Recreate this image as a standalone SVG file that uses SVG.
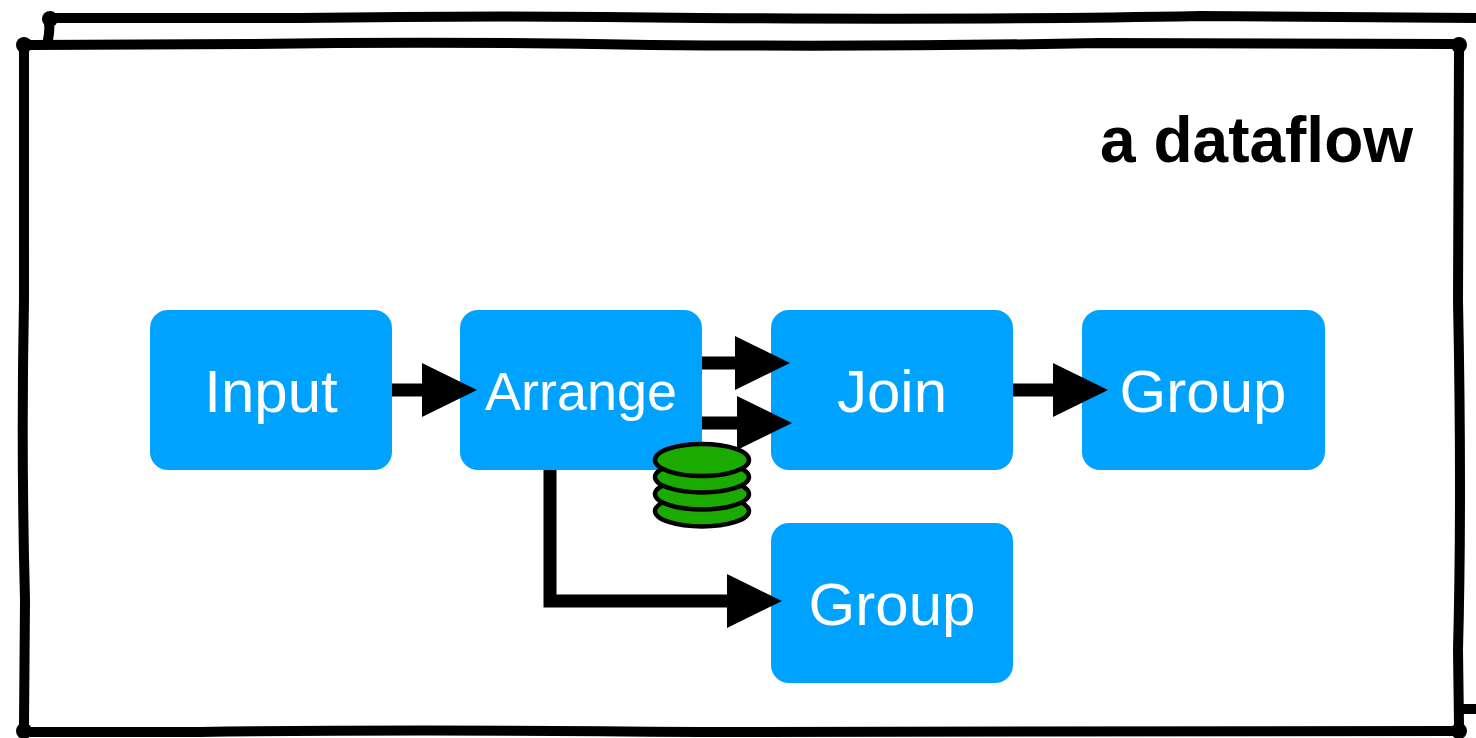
<svg xmlns="http://www.w3.org/2000/svg" width="1476" height="738" viewBox="0 0 1476 738">
  <style>
    .frame { fill: #ffffff; stroke: #000000; stroke-width: 10; stroke-linejoin: round; stroke-linecap: round; }
    .blob { fill: #000000; }
    .box { fill: #00A2FF; }
    .label { fill: #ffffff; font-family: "Liberation Sans", Arial, sans-serif; font-size: 60px; text-anchor: middle; }
    .title { fill: #000000; font-family: "Liberation Sans", Arial, sans-serif; font-size: 64px; font-weight: bold; text-anchor: end; }
    .conn { fill: none; stroke: #000000; stroke-width: 13; stroke-linejoin: miter; stroke-linecap: butt; }
    .coin { fill: #1BAA00; stroke: #000000; stroke-width: 4.5; }
  </style>
  <defs>
    <marker id="head" viewBox="0 0 55 54" refX="0" refY="27" markerWidth="55" markerHeight="54" markerUnits="userSpaceOnUse" orient="auto">
      <path d="M0,0 L55,27 L0,54 Z" fill="#000000"/>
    </marker>
  </defs>
  <rect width="1476" height="738" fill="#ffffff"/>

  <g id="frame">
    <path class="frame" d="M49,60 L48,40 Q50,30 49,24 Q49,18 56,18 L300,18 Q500,15 700,18 Q1000,20 1200,16 L1490,18 L1490,709 L1463,709 L60,709 Z"/>
    <circle class="blob" cx="50" cy="19" r="8"/>
    <path class="frame" d="M24,50 Q24,44 31,45 L250,44 Q450,41 650,45 Q900,47 1100,43 L1452,44 Q1459,44 1459,52 L1458,300 Q1462,500 1458,650 L1459,725 Q1459,732 1451,731 L700,732 Q400,729 200,732 L31,732 Q24,732 24,725 L25,600 Q21,450 24,300 Z"/>
    <circle class="blob" cx="24" cy="45" r="8"/>
    <circle class="blob" cx="1459" cy="45" r="8"/>
    <circle class="blob" cx="1459" cy="731" r="8"/>
    <circle class="blob" cx="24" cy="731" r="8"/>
  </g>

  <text id="title" class="title" x="1413" y="162">a dataflow</text>

  <g id="node-input">
    <rect class="box" x="150" y="310" width="242" height="160" rx="18"/>
    <text class="label" x="271" y="412">Input</text>
  </g>
  <g id="node-arrange">
    <rect class="box" x="460" y="310" width="242" height="160" rx="18"/>
    <text class="label" x="581" y="410" style="font-size:54px">Arrange</text>
  </g>
  <g id="node-join">
    <rect class="box" x="771" y="310" width="242" height="160" rx="18"/>
    <text class="label" x="892" y="412">Join</text>
  </g>
  <g id="node-group1">
    <rect class="box" x="1082" y="310" width="243" height="160" rx="18"/>
    <text class="label" x="1203" y="412">Group</text>
  </g>
  <g id="node-group2">
    <rect class="box" x="771" y="523" width="242" height="160" rx="18"/>
    <text class="label" x="892" y="625">Group</text>
  </g>

  <g id="connectors">
    <path class="conn" d="M392,390 H422" marker-end="url(#head)"/>
    <path class="conn" d="M702,363 H735" marker-end="url(#head)"/>
    <path class="conn" d="M702,423 H737" marker-end="url(#head)"/>
    <path class="conn" d="M1013,390 H1053" marker-end="url(#head)"/>
    <path class="conn" d="M550,470 V601 H727" marker-end="url(#head)"/>
  </g>

  <g id="storage">
    <ellipse class="coin" cx="702" cy="511" rx="47" ry="15.5"/>
    <ellipse class="coin" cx="702" cy="494" rx="47" ry="15.5"/>
    <ellipse class="coin" cx="702" cy="477" rx="47" ry="15.5"/>
    <ellipse class="coin" cx="702" cy="460" rx="47" ry="16"/>
  </g>
</svg>
